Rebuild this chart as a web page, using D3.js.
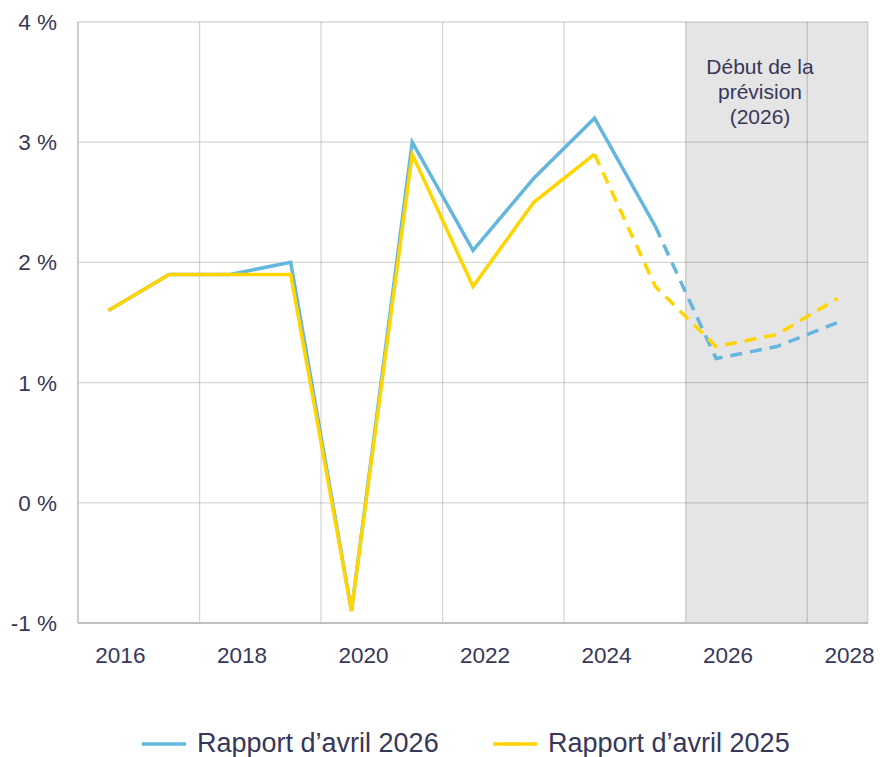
<!DOCTYPE html>
<html>
<head>
<meta charset="utf-8">
<script src="https://cdn.jsdelivr.net/npm/d3@7"></script>
<style>
  html, body { margin: 0; padding: 0; background: #fff; }
  svg { display: block; font-family: "Liberation Sans", Arial, sans-serif; }
</style>
</head>
<body>
<svg id="chart" width="880" height="757"></svg>
<script>
const years = [2016, 2017, 2018, 2019, 2020, 2021, 2022, 2023, 2024, 2025, 2026, 2027, 2028];
const yTicks = [-1, 0, 1, 2, 3, 4];
const xTickYears = [2016, 2018, 2020, 2022, 2024, 2026, 2028];

// Rapport d'avril 2026 (solid up to 2025, forecast after)
const avril2026 = [1.6, 1.9, 1.9, 2.0, -0.9, 3.0, 2.1, 2.7, 3.2, 2.3, 1.2, 1.3, 1.5];
const lastSolid2026 = 2025;
// Rapport d'avril 2025 (solid up to 2024, forecast after)
const avril2025 = [1.6, 1.9, 1.9, 1.9, -0.9, 2.9, 1.8, 2.5, 2.9, 1.8, 1.3, 1.4, 1.7];
const lastSolid2025 = 2024;

const forecastStart = 2026;
const annotation = ['Début de la', 'prévision', '(2026)'];

const series = [
  { name: 'Rapport d\u2019avril 2026', values: avril2026, lastSolid: lastSolid2026, color: '#64b6dd' },
  { name: 'Rapport d\u2019avril 2025', values: avril2025, lastSolid: lastSolid2025, color: '#ffd500' }
];

const textColor = '#37375a';
const svg = d3.select('#chart');
const m = { left: 78, right: 868, top: 22, bottom: 623 };

const x = d3.scaleBand().domain(years).range([m.left, m.right]).padding(0);
const y = d3.scaleLinear().domain([-1, 4]).range([m.bottom, m.top]);
const cx = d => x(d) + x.bandwidth() / 2;

// forecast shading
svg.append('rect')
  .attr('x', x(forecastStart))
  .attr('y', m.top)
  .attr('width', m.right - x(forecastStart))
  .attr('height', m.bottom - m.top)
  .attr('fill', '#e5e5e5');

// gridlines
const grid = svg.append('g').attr('stroke', 'rgba(0,0,0,0.16)').attr('stroke-width', 1.3);
grid.selectAll('.h').data(yTicks.filter(t => t !== -1)).enter().append('line')
  .attr('x1', m.left).attr('x2', m.right)
  .attr('y1', d => y(d)).attr('y2', d => y(d));
grid.selectAll('.v').data(xTickYears.filter(t => t !== 2016)).enter().append('line')
  .attr('x1', d => x(d)).attr('x2', d => x(d))
  .attr('y1', m.top).attr('y2', m.bottom);
grid.append('line')
  .attr('x1', m.right).attr('x2', m.right)
  .attr('y1', m.top).attr('y2', m.bottom)
  .attr('stroke', 'rgba(0,0,0,0.13)');

// axes lines
svg.append('line')
  .attr('x1', m.left).attr('x2', m.left).attr('y1', m.top).attr('y2', m.bottom)
  .attr('stroke', '#bcbcbc').attr('stroke-width', 1.5);
svg.append('line')
  .attr('x1', m.left).attr('x2', m.right).attr('y1', m.bottom).attr('y2', m.bottom)
  .attr('stroke', '#ababab').attr('stroke-width', 1.5);

// y labels
svg.append('g').selectAll('text').data(yTicks).enter().append('text')
  .attr('x', 57)
  .attr('y', d => y(d) + 8)
  .attr('text-anchor', 'end')
  .attr('font-size', 22.5)
  .attr('fill', textColor)
  .text(d => d + ' %');

// x labels
svg.append('g').selectAll('text').data(xTickYears).enter().append('text')
  .attr('x', d => cx(d) + 12)
  .attr('y', 663)
  .attr('text-anchor', 'middle')
  .attr('font-size', 22.5)
  .attr('fill', textColor)
  .text(d => d);

// annotation
svg.append('g').selectAll('text').data(annotation).enter().append('text')
  .attr('x', 760)
  .attr('y', (d, i) => 74 + i * 25)
  .attr('text-anchor', 'middle')
  .attr('font-size', 21)
  .attr('fill', textColor)
  .text(d => d);

// lines
const line = d3.line().x(d => cx(d.year)).y(d => y(d.v));
series.forEach(s => {
  const pts = years.map((yr, i) => ({ year: yr, v: s.values[i] }));
  const solid = pts.filter(p => p.year <= s.lastSolid);
  const dashed = pts.filter(p => p.year >= s.lastSolid);
  svg.append('path').datum(solid)
    .attr('d', line)
    .attr('fill', 'none')
    .attr('stroke', s.color)
    .attr('stroke-width', 3.5)
    .attr('stroke-linejoin', 'miter');
  svg.append('path').datum(dashed)
    .attr('d', line)
    .attr('fill', 'none')
    .attr('stroke', s.color)
    .attr('stroke-width', 3.5)
    .attr('stroke-dasharray', '12,8');
});

// legend
const legendPos = [142, 493];
const legend = svg.append('g').selectAll('g').data(series).enter().append('g')
  .attr('transform', (d, i) => `translate(${legendPos[i]},744)`);
legend.append('line')
  .attr('x1', 0).attr('x2', 44)
  .attr('stroke', d => d.color).attr('stroke-width', 3.5);
legend.append('text')
  .attr('x', 55).attr('y', 7.5)
  .attr('font-size', 27)
  .attr('fill', textColor)
  .text(d => d.name);
</script>
</body>
</html>
